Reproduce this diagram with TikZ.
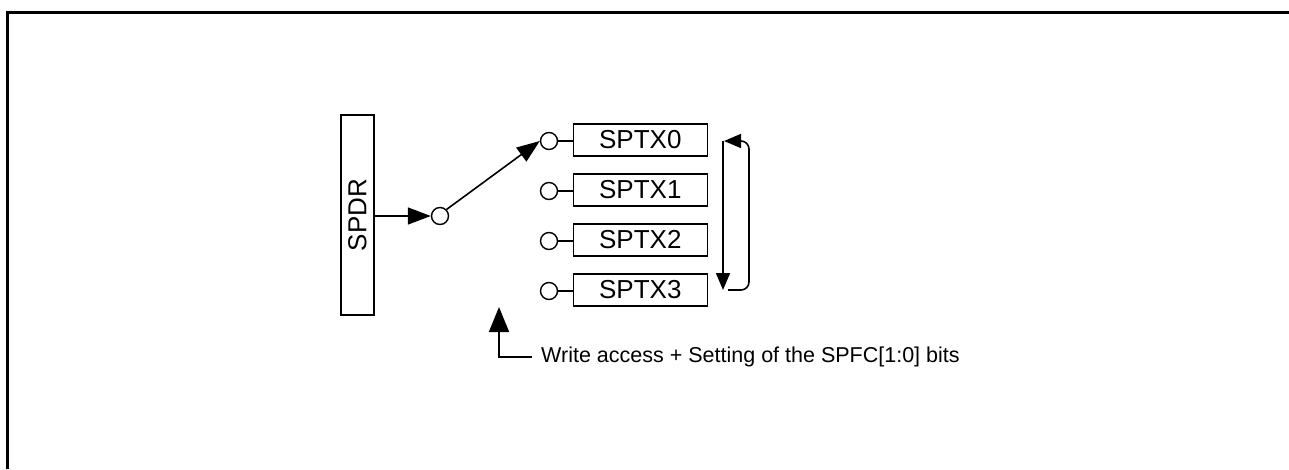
\documentclass[tikz,border=0pt]{standalone}
\usepackage{fontspec}
\setmainfont{Liberation Sans}
\usetikzlibrary{arrows.meta}
\begin{document}
\begin{tikzpicture}[x=1pt,y=-1pt,
  regbox/.style={draw,line width=1.6pt,inner sep=0pt,minimum width=134pt,minimum height=32pt,font=\fontsize{26}{30}\selectfont},
  port/.style={draw,circle,line width=1.4pt,inner sep=0pt,minimum size=17pt,fill=white},
  conn/.style={line width=1.6pt},
  bigtip/.style={-{Triangle[length=23pt,width=17pt]}},
  smalltip/.style={-{Triangle[length=17pt,width=14pt]}},
  uptip/.style={-{Triangle[length=25pt,width=20pt]}},
  lbl/.style={font=\fontsize{21.5}{25}\selectfont,inner sep=0pt,anchor=west}]
\useasboundingbox (0,0) rectangle (1289,469);
% frame
\draw[line width=3pt] (7.5,469) -- (7.5,12.5) -- (1289,12.5);
% SPDR
\node[draw,line width=1.6pt,inner sep=0pt,minimum width=33pt,minimum height=200pt] (spdr) at (357.5,215) {};
\node[rotate=90,font=\fontsize{26}{30}\selectfont,inner sep=0pt] (spdrt) at (357.5,215) {SPDR};
\node[port] (c0) at (440,216) {};
% ports and registers
\node[port] (p0) at (549,141) {};
\node[port] (p1) at (549,191) {};
\node[port] (p2) at (549,241) {};
\node[port] (p3) at (549,291) {};
\node[regbox] (r0) at (640.3,140) {SPTX0};
\node[regbox] (r1) at (640.3,190) {SPTX1};
\node[regbox] (r2) at (640.3,240) {SPTX2};
\node[regbox] (r3) at (640.3,290) {SPTX3};
\foreach \i in {0,1,2,3} {\draw[conn] (p\i.east) -- (p\i.east -| r\i.west);}
% arrows
\draw[conn,bigtip] (spdr.east |- c0) -- (c0.west);
\draw[conn,bigtip] (c0.north east) -- (p0.west);
% loop
\coordinate (ltop) at (724,141);
\coordinate (lbot) at (723,290);
\draw[conn,smalltip] (723,141) -- (lbot);
\draw[conn,smalltip,rounded corners=8pt] (728,290) -- (749,290) -- (749,141) -- (ltop);
% bottom note
\node[lbl] (note) at (541,357) {Write access + Setting of the SPFC[1:0] bits};
\coordinate (corner) at (499,357);
\coordinate (uptipc) at (499,307);
\draw[conn,uptip] (note.west -| 532,0) -- (corner) -- (uptipc);
\end{tikzpicture}
\end{document}
